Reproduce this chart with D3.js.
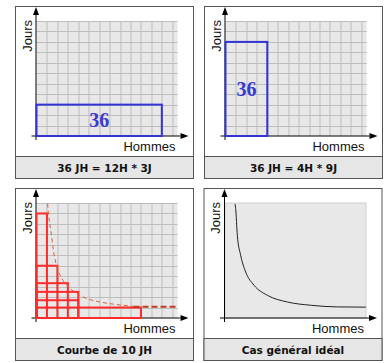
<!DOCTYPE html>
<html>
<head>
<meta charset="utf-8">
<script src="https://cdn.jsdelivr.net/npm/d3@7"></script>
<style>
  body{margin:0;background:#fff;}
</style>
</head>
<body>
<svg id="graph"></svg>
<script>
// legendes sous chaque cadre
var captions = ["36 JH = 12H * 3J", "36 JH = 4H * 9J", "Courbe de 10 JH", "Cas général idéal"];
// [hommes, jours]
var rect12x3 = [12, 3];
var rect4x9 = [4, 9];
// rectangles de la courbe de 10 JH
var rects10 = [[1, 10], [2, 5], [3, 3.33], [4, 2.5], [4, 1.7], [10, 1]];
// courbe pointillee
var curve10 = [[1.06, 10.95], [1.16, 9.83], [1.39, 8.23], [1.64, 6.32], [1.96, 4.88], [2.44, 3.77],
               [3.07, 2.97], [3.88, 2.33], [4.83, 1.86], [6.1, 1.53], [7.7, 1.28], [9.29, 1.12]];
var tail10 = [[9.29, 1.08], [13.45, 1.08]];
// cas general ideal
var curveIdeal = [[0.96, 10.9], [1.02, 10.47], [1.18, 7.91], [1.5, 6.0], [1.98, 4.4], [2.78, 3.13],
                  [4.06, 2.17], [5.97, 1.53], [8.2, 1.22], [10.77, 1.06], [13.48, 1.04]];

var width = 385, height = 363;
var svg = d3.select("#graph")
        .attr("width", width)
        .attr("height", height);

var x = d3.scaleLinear().domain([0, 13.5]).range([0, 141]);
var y = d3.scaleLinear().domain([0, 11]).range([0, -115]);

var pos = [[15, 6], [204, 6], [15, 188], [203.5, 188]];
var ox = 21.5, oy = 130;

function panel(i, grid){
    var g = svg.append("g")
        .attr("transform", "translate(" + pos[i][0] + "," + pos[i][1] + ")");
    g.append("rect")
        .attr("x", 0.5).attr("y", 0.5)
        .attr("width", 178).attr("height", 172)
        .attr("fill", "#fff")
        .attr("stroke", "#555");
    g.append("rect")
        .attr("x", 0.5).attr("y", 150.5)
        .attr("width", 178).attr("height", 22)
        .attr("fill", "#e6e6e6")
        .attr("stroke", "#555");
    g.append("text")
        .attr("x", 89.5).attr("y", 165.5)
        .attr("text-anchor", "middle")
        .attr("font-family", "DejaVu Sans, Verdana, sans-serif")
        .attr("font-weight", "bold")
        .attr("font-size", "10.5px")
        .attr("fill", "#111")
        .text(captions[i]);

    var pc = g.append("g")
        .attr("transform", "translate(" + ox + "," + oy + ")");
    pc.append("rect")
        .attr("x", x(0)).attr("y", y(11))
        .attr("width", x(13.5) - x(0)).attr("height", y(0) - y(11))
        .attr("fill", "#e8e8e8")
        .attr("stroke", grid ? "none" : "#d0d0d0");
    if(grid){
        pc.selectAll("line.v")
            .data(d3.range(1, 14))
            .join("line")
            .attr("class", "v")
            .attr("x1", d => Math.round(x(d)) + 0.5).attr("x2", d => Math.round(x(d)) + 0.5)
            .attr("y1", y(0)).attr("y2", y(11))
            .attr("stroke", "#bdbdbd");
        pc.selectAll("line.h")
            .data(d3.range(1, 12))
            .join("line")
            .attr("class", "h")
            .attr("y1", d => Math.round(y(d)) + 0.5).attr("y2", d => Math.round(y(d)) + 0.5)
            .attr("x1", x(0)).attr("x2", x(13.5))
            .attr("stroke", "#bdbdbd");
    }
    // axes
    pc.append("line")
        .attr("x1", -0.5).attr("x2", -0.5)
        .attr("y1", 4).attr("y2", y(11) - 7)
        .attr("stroke", "#000");
    pc.append("line")
        .attr("x1", -5).attr("x2", x(13.5) + 3)
        .attr("y1", 0).attr("y2", 0)
        .attr("stroke", "#000");
    pc.append("path")
        .attr("d", "M-0.5," + (y(11) - 14) + "L-3.5," + (y(11) - 6) + "L2.5," + (y(11) - 6) + "Z")
        .attr("fill", "#000");
    pc.append("path")
        .attr("d", "M" + (x(13.5) + 11) + ",0L" + (x(13.5) + 3) + ",-3L" + (x(13.5) + 3) + ",3Z")
        .attr("fill", "#000");
    pc.append("text")
        .attr("transform", "translate(-5," + (y(11) - 1) + ") rotate(-90)")
        .attr("text-anchor", "end")
        .attr("font-family", "Liberation Sans, Arial, sans-serif")
        .attr("font-size", "13px")
        .attr("fill", "#111")
        .text("Jours");
    pc.append("text")
        .attr("x", x(13.5) - 2).attr("y", 14.5)
        .attr("text-anchor", "end")
        .attr("font-family", "Liberation Sans, Arial, sans-serif")
        .attr("font-size", "13px")
        .attr("fill", "#111")
        .text("Hommes");
    return pc;
}

function blueRect(pc, r){
    pc.append("rect")
        .attr("x", x(0)).attr("y", y(r[1]))
        .attr("width", x(r[0]) - x(0)).attr("height", y(0) - y(r[1]))
        .attr("fill", "none")
        .attr("stroke", "#3434d4")
        .attr("stroke-width", 2);
    pc.append("text")
        .attr("x", x(r[0] / 2)).attr("y", y(r[1] / 2) + 7)
        .attr("text-anchor", "middle")
        .attr("font-family", "Liberation Serif, Times New Roman, serif")
        .attr("font-weight", "bold")
        .attr("font-size", "20px")
        .attr("fill", "#3a3ad2")
        .text(r[0] * r[1]);
}

var p1 = panel(0, true);
blueRect(p1, rect12x3);
var p2 = panel(1, true);
blueRect(p2, rect4x9);

var p3 = panel(2, true);
p3.selectAll("rect.r")
    .data(rects10)
    .join("rect")
    .attr("class", "r")
    .attr("x", x(0)).attr("y", d => y(d[1]))
    .attr("width", d => x(d[0]) - x(0)).attr("height", d => y(0) - y(d[1]))
    .attr("fill", "none")
    .attr("stroke", "#ff2a2a")
    .attr("stroke-width", 2);
var line = d3.line()
    .x(d => x(d[0]))
    .y(d => y(d[1]))
    .curve(d3.curveMonotoneX);
p3.append("path")
    .attr("d", line(curve10))
    .attr("fill", "none")
    .attr("stroke", "#d8603c")
    .attr("stroke-dasharray", "4,3");
p3.append("path")
    .attr("d", line(tail10))
    .attr("fill", "none")
    .attr("stroke", "#c23a1c")
    .attr("stroke-width", 2)
    .attr("stroke-dasharray", "6,3");

var p4 = panel(3, false);
p4.append("path")
    .attr("d", line(curveIdeal))
    .attr("fill", "none")
    .attr("stroke", "#222")
    .attr("stroke-width", 1);
</script>
</body>
</html>
